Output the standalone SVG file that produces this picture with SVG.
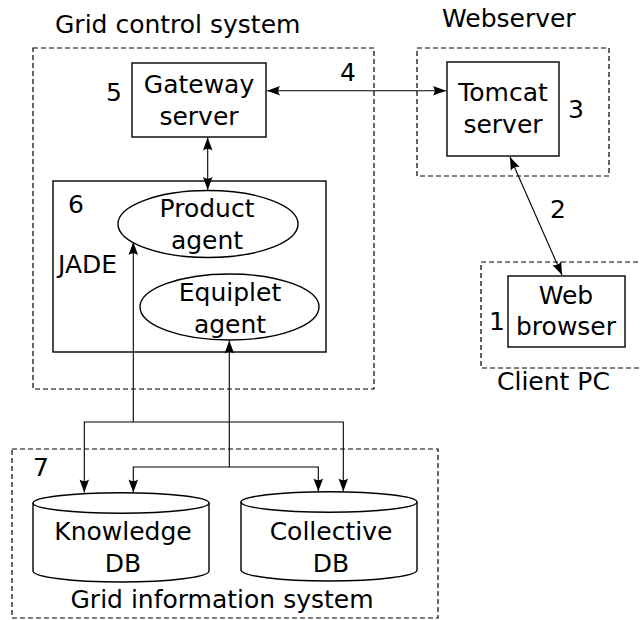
<svg xmlns="http://www.w3.org/2000/svg" width="640" height="620" viewBox="0 0 640 620">
  <style>
    text { font-family: "DejaVu Sans", "Liberation Sans", sans-serif; font-size: 25px; fill: #000; }
    .c { text-anchor: middle; }
    .group { fill: none; stroke: #000; stroke-width: 1.2; stroke-dasharray: 5 3; }
    .box { fill: #fff; stroke: #000; stroke-width: 1.4; }
    .shape { fill: #fff; stroke: #000; stroke-width: 1.4; }
    .link { fill: none; stroke: #000; stroke-width: 1.1; }
  </style>
  <defs>
    <marker id="head" markerUnits="userSpaceOnUse" viewBox="-14 -6 15 12" refX="0" refY="0" markerWidth="15" markerHeight="12" orient="auto-start-reverse">
      <path d="M0,0 L-13,-4.8 Q-9.5,0 -13,4.8 Z" fill="#000"/>
    </marker>
  </defs>

  <rect width="640" height="620" fill="#fff"/>

  <!-- system boundaries -->
  <g id="grid-control-system">
    <rect class="group" x="33" y="48" width="341" height="341"/>
    <text x="55" y="33">Grid control system</text>
  </g>
  <g id="webserver">
    <rect class="group" x="417" y="48" width="192" height="128"/>
    <text x="442" y="27">Webserver</text>
  </g>
  <g id="client-pc">
    <rect class="group" x="481" y="262" width="162" height="106"/>
    <text x="497" y="390">Client PC</text>
  </g>
  <g id="grid-information-system">
    <rect class="group" x="12" y="449" width="426" height="169"/>
    <text class="c" x="222" y="608">Grid information system</text>
    <text x="33" y="476">7</text>
  </g>

  <!-- nodes -->
  <g id="gateway-server">
    <rect class="box" x="132" y="63" width="134" height="74"/>
    <text class="c" x="199" y="93">Gateway</text>
    <text class="c" x="199" y="125">server</text>
    <text x="106" y="101">5</text>
  </g>
  <g id="tomcat-server">
    <rect class="box" x="447" y="62" width="112" height="94"/>
    <text class="c" x="503" y="101">Tomcat</text>
    <text class="c" x="503" y="133">server</text>
    <text x="568" y="118">3</text>
  </g>
  <g id="web-browser">
    <rect class="box" x="508" y="276" width="117" height="71"/>
    <text class="c" x="566" y="304">Web</text>
    <text class="c" x="566" y="335">browser</text>
    <text x="489" y="330">1</text>
  </g>
  <g id="jade">
    <rect class="box" x="53" y="181" width="273" height="171"/>
    <text x="58" y="273">JADE</text>
    <text x="68" y="213">6</text>
  </g>
  <g id="product-agent">
    <ellipse class="shape" cx="208" cy="224" rx="90" ry="33.5"/>
    <text class="c" x="207" y="217">Product</text>
    <text class="c" x="207" y="249">agent</text>
  </g>
  <g id="equiplet-agent">
    <ellipse class="shape" cx="229.5" cy="307" rx="89.5" ry="33"/>
    <text class="c" x="230" y="301">Equiplet</text>
    <text class="c" x="230" y="333">agent</text>
  </g>
  <g id="knowledge-db">
    <path class="shape" d="M33,503 L33,571 A88,11 0 0 0 209,571 L209,503"/>
    <ellipse class="shape" cx="121" cy="503" rx="88" ry="10.3"/>
    <text class="c" x="123" y="540">Knowledge</text>
    <text class="c" x="123" y="572">DB</text>
  </g>
  <g id="collective-db">
    <path class="shape" d="M241,502 L241,570 A88,11 0 0 0 417,570 L417,502"/>
    <ellipse class="shape" cx="329" cy="502" rx="88" ry="10.3"/>
    <text class="c" x="331" y="540">Collective</text>
    <text class="c" x="331" y="572">DB</text>
  </g>

  <!-- connectors -->
  <g id="connectors">
    <line class="link" x1="267" y1="90.7" x2="446" y2="90.7" marker-start="url(#head)" marker-end="url(#head)"/>
    <line class="link" x1="207.7" y1="137.5" x2="207.7" y2="190" marker-start="url(#head)" marker-end="url(#head)"/>
    <line class="link" x1="510" y1="157" x2="562" y2="275" marker-start="url(#head)" marker-end="url(#head)"/>
    <path class="link" d="M133.3,422 L133.3,242" marker-end="url(#head)"/>
    <path class="link" d="M133.3,422 L84.3,422 L84.3,492.5" marker-end="url(#head)"/>
    <path class="link" d="M133.3,422 L343.3,422 L343.3,491.5" marker-end="url(#head)"/>
    <path class="link" d="M229.3,467 L229.3,340.5" marker-end="url(#head)"/>
    <path class="link" d="M229.3,467 L133.3,467 L133.3,492.5" marker-end="url(#head)"/>
    <path class="link" d="M229.3,467 L318.3,467 L318.3,491.5" marker-end="url(#head)"/>
    <text x="340" y="81">4</text>
    <text x="550" y="218">2</text>
  </g>
</svg>
